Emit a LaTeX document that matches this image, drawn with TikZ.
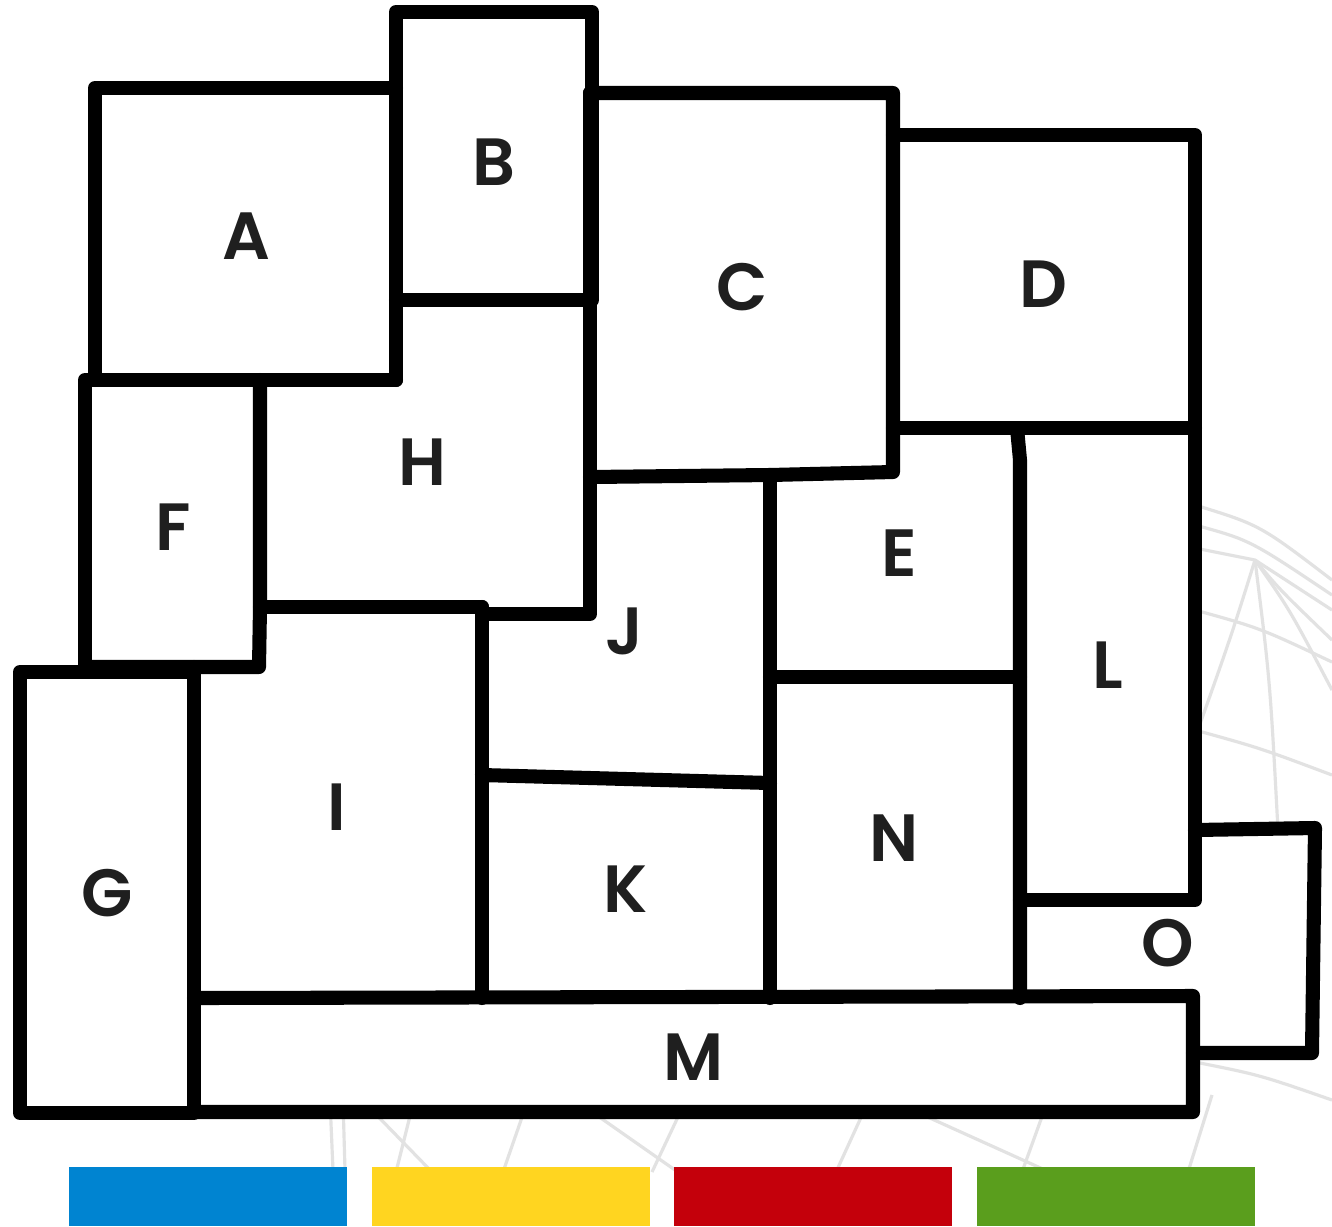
\documentclass[tikz,border=0pt]{standalone}
\usepackage{fontspec}
\setmainfont{Poppins}[BoldFont={Poppins SemiBold}]
\definecolor{mapblue}{RGB}{0,132,209}
\definecolor{mapyellow}{RGB}{255,213,32}
\definecolor{mapred}{RGB}{196,0,11}
\definecolor{mapgreen}{RGB}{90,158,29}
\definecolor{globegray}{RGB}{226,226,226}
\tikzset{
  wall/.style={line width=4pt, line join=round, line cap=round},
  region/.style={font=\fontsize{19}{19}\selectfont\bfseries, text=black!88},
  globe/.style={globegray, line width=0.9pt},
}

\begin{document}
\begin{tikzpicture}[x=0.01cm, y=-0.01cm]
    \useasboundingbox (0,0) rectangle (1332,1226);
    \fill[white] (0,0) rectangle (1332,1226);

    % globe behind the map
    \draw[globe] (1255,560) .. controls (1230,640) .. (1180,780);
    \draw[globe] (1255,560) .. controls (1270,680) .. (1278,830);
    \draw[globe] (1255,560) .. controls (1290,610) .. (1332,690);
    \draw[globe] (1255,560) .. controls (1280,590) .. (1332,640);
    \draw[globe] (1195,505) .. controls (1260,525) .. (1332,580);
    \draw[globe] (1195,525) .. controls (1250,540) .. (1332,595);
    \draw[globe] (1195,548) -- (1255,560) -- (1332,610);
    \draw[globe] (1195,610) .. controls (1260,628) .. (1332,662);
    \draw[globe] (1195,730) .. controls (1260,748) .. (1332,775);
    \draw[globe] (1195,1062) .. controls (1260,1075) .. (1332,1100);
    \draw[globe] (330,1100) -- (333,1170);
    \draw[globe] (343,1100) -- (345,1170);
    \draw[globe] (362,1100) -- (432,1172);
    \draw[globe] (414,1100) -- (396,1172);
    \draw[globe] (528,1100) -- (503,1172);
    \draw[globe] (575,1100) -- (675,1170);
    \draw[globe] (686,1100) -- (652,1172);
    \draw[globe] (869,1100) -- (836,1172);
    \draw[globe] (890,1100) -- (1045,1170);
    \draw[globe] (1048,1100) -- (1022,1172);
    \draw[globe] (1212,1095) -- (1188,1172);

    \fill[white] (20,1113) -- (20,672) -- (85,672) -- (85,380) -- (95,380) -- (95,88)
        -- (396,88) -- (396,12) -- (592,12) -- (592,93) -- (893,93) -- (893,135)
        -- (1195,135) -- (1195,830) -- (1315,828) -- (1312,1053) -- (1193,1053)
        -- (1193,1112) -- (20,1113) -- cycle;

    % walls between regions
    \draw[wall] (95,380) -- (95,88) -- (396,88);
    \draw[wall] (396,380) -- (396,12) -- (592,12) -- (592,300);
    \draw[wall] (396,300) -- (590,300);
    \draw[wall] (590,93) -- (893,93) -- (893,472) -- (770,475) -- (590,477);
    \draw[wall] (590,93) -- (590,614) -- (482,614) -- (482,607) -- (260,607);
    \draw[wall] (893,135) -- (1195,135) -- (1195,900) -- (1020,900);
    \draw[wall] (893,428) -- (1195,428);
    \draw[wall] (1017,428) -- (1020,460) -- (1020,998);
    \draw[wall] (770,475) -- (770,998);
    \draw[wall] (770,677) -- (1020,677);
    \draw[wall] (1195,830) -- (1315,828) -- (1312,1053) -- (1193,1053);
    \draw[wall] (194,998) -- (1193,996) -- (1193,1112) -- (194,1112);
    \draw[wall] (194,672) -- (20,672) -- (20,1113) -- (194,1113) -- (194,667);
    \draw[wall] (85,667) -- (85,380) -- (396,380);
    \draw[wall] (260,380) -- (260,607) -- (259,667) -- (85,667);
    \draw[wall] (482,607) -- (482,998);
    \draw[wall] (482,775) -- (770,783);

    \node[region] (a) at (246,236) {A};
    \node[region] (b) at (494,162) {B};
    \node[region] (c) at (742,287) {C};
    \node[region] (d) at (1043,284) {D};
    \node[region] (e) at (899,553) {E};
    \node[region] (f) at (173,527) {F};
    \node[region] (g) at (107,893) {G};
    \node[region] (h) at (422,462) {H};
    \node[region] (i) at (337,807) {I};
    \node[region] (j) at (625,631) {J};
    \node[region] (k) at (626,889) {K};
    \node[region] (l) at (1108,665) {L};
    \node[region] (m) at (694,1057) {M};
    \node[region] (n) at (894,838) {N};
    \node[region] (o) at (1168,943) {O};

    \fill[mapblue] (69,1167) rectangle (347,1226);
    \fill[mapyellow] (372,1167) rectangle (650,1226);
    \fill[mapred] (674,1167) rectangle (952,1226);
    \fill[mapgreen] (977,1167) rectangle (1255,1226);
\end{tikzpicture}
\end{document}
